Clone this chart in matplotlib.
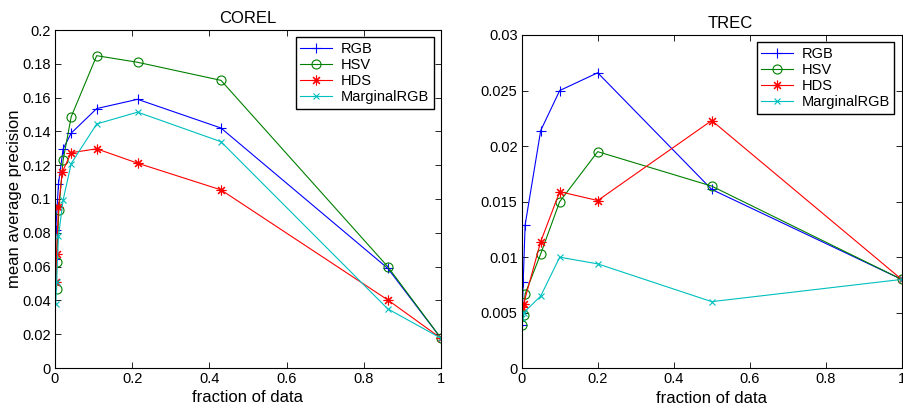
import matplotlib
matplotlib.use('Agg')
import matplotlib.pyplot as plt
from matplotlib.ticker import FuncFormatter

plt.rcParams['font.family'] = ['Liberation Sans', 'DejaVu Sans']

series_names = ['RGB', 'HSV', 'HDS', 'MarginalRGB']
# MATLAB-like line/marker styles; '*' is drawn as an 8-armed asterisk
series_styles = {
    'RGB': dict(color=(0, 0, 1), marker='+', markersize=7),
    'HSV': dict(color=(0, 0.5, 0), marker='o', markerfacecolor='none', markersize=6.5),
    'HDS': dict(color=(1, 0, 0), marker=(8, 2, 0), markersize=7),
    'MarginalRGB': dict(color=(0, 0.75, 0.75), marker='x', markersize=5),
}

# COREL panel
corel_x = {
    'RGB': [0.001, 0.002, 0.009, 0.021, 0.042, 0.108, 0.214, 0.43, 0.862, 1.0],
    'HSV': [0.004, 0.004, 0.01, 0.021, 0.042, 0.108, 0.214, 0.43, 0.862, 1.0],
    'HDS': [0.003, 0.004, 0.009, 0.019, 0.042, 0.108, 0.214, 0.43, 0.862, 1.0],
    'MarginalRGB': [0.002, 0.004, 0.009, 0.021, 0.042, 0.108, 0.214, 0.43, 0.862, 1.0],
}
corel_y = {
    'RGB': [0.0643, 0.0817, 0.109, 0.1296, 0.139, 0.1535, 0.159, 0.142, 0.059, 0.0176],
    'HSV': [0.0466, 0.0625, 0.0935, 0.123, 0.1487, 0.1848, 0.1809, 0.1702, 0.0600, 0.0176],
    'HDS': [0.0511, 0.0673, 0.0954, 0.116, 0.1274, 0.1297, 0.1212, 0.1054, 0.0403, 0.0176],
    'MarginalRGB': [0.0377, 0.0507, 0.078, 0.0994, 0.121, 0.1444, 0.1514, 0.1339, 0.0350, 0.0176],
}
corel_yticks = [0, 0.02, 0.04, 0.06, 0.08, 0.1, 0.12, 0.14, 0.16, 0.18, 0.2]

# TREC panel
trec_x = {
    'RGB': [0.001, 0.004, 0.009, 0.05, 0.1, 0.2, 0.5, 1.0],
    'HSV': [0.001, 0.005, 0.009, 0.05, 0.1, 0.2, 0.5, 1.0],
    'HDS': [0.002, 0.005, 0.05, 0.1, 0.2, 0.5, 1.0],
    'MarginalRGB': [0.001, 0.005, 0.05, 0.1, 0.2, 0.5, 1.0],
}
trec_y = {
    'RGB': [0.0039, 0.0078, 0.0129, 0.0214, 0.0250, 0.0266, 0.0161, 0.0080],
    'HSV': [0.0039, 0.0048, 0.0067, 0.0103, 0.0150, 0.0195, 0.0164, 0.0080],
    'HDS': [0.0055, 0.0058, 0.0114, 0.0159, 0.0151, 0.0223, 0.0080],
    'MarginalRGB': [0.0045, 0.0050, 0.0065, 0.0100, 0.0094, 0.0060, 0.0080],
}
trec_yticks = [0, 0.005, 0.01, 0.015, 0.02, 0.025, 0.03]

xticks = [0, 0.2, 0.4, 0.6, 0.8, 1]

fig = plt.figure(figsize=(9.04, 4.12), dpi=100)
ax1 = fig.add_axes([55 / 904, 44 / 412, 386 / 904, 338 / 412])
ax2 = fig.add_axes([521.7 / 904, 43.7 / 412, 380 / 904, 333.3 / 412])

fmt = FuncFormatter(lambda v, p: '%g' % round(v, 6))


def draw_panel(ax, xs, ys, yticks, title, title_x):
    for name in series_names:
        ax.plot(xs[name], ys[name], linewidth=0.8, markeredgewidth=0.8,
                label=name, **series_styles[name])
    ax.set_xlim(0, 1)
    ax.set_ylim(yticks[0], yticks[-1])
    ax.set_xticks(xticks)
    ax.set_yticks(yticks)
    ax.xaxis.set_major_formatter(fmt)
    ax.yaxis.set_major_formatter(fmt)
    ax.tick_params(direction='in', top=True, right=True, length=4,
                   width=0.6, labelsize=10.5, pad=3)
    for sp in ax.spines.values():
        sp.set_linewidth(0.8)
    ax.set_xlabel('fraction of data', fontsize=12, labelpad=3)
    ax.set_title(title, fontsize=12, x=title_x, pad=5)
    leg = ax.legend(loc='upper right', fontsize=10.5, fancybox=False,
                    framealpha=1, edgecolor='black', borderaxespad=0.5,
                    handlelength=2.2, labelspacing=0.15, borderpad=0.3,
                    handletextpad=0.6)
    leg.get_frame().set_linewidth(1.0)


draw_panel(ax1, corel_x, corel_y, corel_yticks, 'COREL', 0.5)
draw_panel(ax2, trec_x, trec_y, trec_yticks, 'TREC', 0.548)
ax1.set_ylabel('mean average precision', fontsize=12, labelpad=0)

fig.savefig('out.png', dpi=100)
